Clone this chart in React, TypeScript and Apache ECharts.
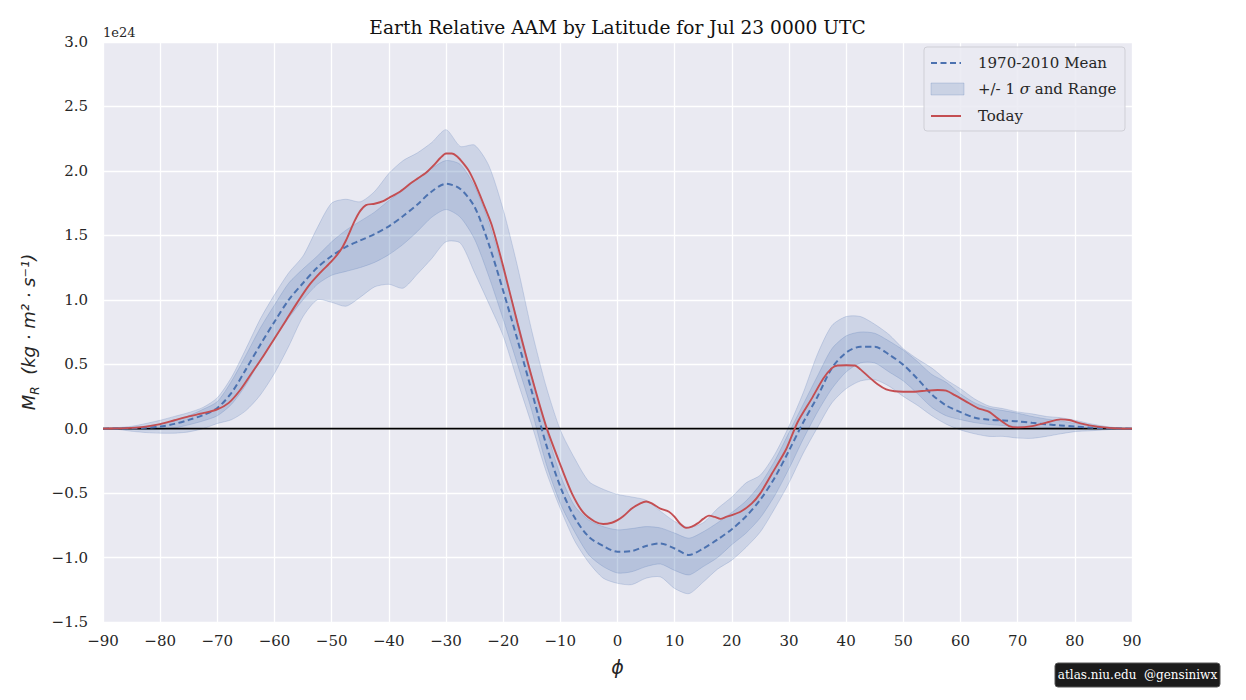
import React, { useEffect, useRef } from "react";
import * as echarts from "echarts";

// Latitude grid (degrees) for climatology series
const LAT = [
  -90, -87.5, -85, -82.5, -80, -77.5, -75, -72.5, -70, -67.5,
  -65, -62.5, -60, -57.5, -55, -52.5, -50, -47.5, -45, -42.5,
  -40, -37.5, -35, -32.5, -30, -27.5, -25, -22.5, -20, -17.5,
  -15, -12.5, -10, -7.5, -5, -2.5, 0, 2.5, 5, 7.5,
  10, 12.5, 15, 17.5, 20, 22.5, 25, 27.5, 30, 32.5,
  35, 37.5, 40, 42.5, 45, 47.5, 50, 52.5, 55, 57.5,
  60, 62.5, 65, 67.5, 70, 72.5, 75, 77.5, 80, 82.5,
  85, 87.5, 90,
];

// 1970-2010 mean (units of 1e24 kg m^2 s^-1)
const MEAN = [
  0, 0.001, 0.003, 0.008, 0.016, 0.037, 0.068, 0.105, 0.16, 0.28,
  0.46, 0.65, 0.83, 1.0, 1.13, 1.25, 1.34, 1.41, 1.46, 1.51,
  1.57, 1.65, 1.74, 1.84, 1.9, 1.86, 1.72, 1.43, 1.07, 0.69,
  0.29, -0.12, -0.45, -0.69, -0.84, -0.91, -0.955, -0.95, -0.91, -0.89,
  -0.93, -0.98, -0.93, -0.86, -0.78, -0.68, -0.55, -0.38, -0.17, 0.05,
  0.25, 0.47, 0.59, 0.635, 0.635, 0.575, 0.495, 0.385, 0.265, 0.18,
  0.128, 0.085, 0.07, 0.064, 0.057, 0.045, 0.034, 0.025, 0.016, 0.009,
  0.004, 0.001, 0,
];

// +1 sigma
const SIG_HI = [
  0, 0.004, 0.01, 0.02, 0.035, 0.06, 0.1, 0.15, 0.21, 0.37,
  0.57, 0.78, 0.96, 1.13, 1.24, 1.34, 1.45, 1.54, 1.61, 1.68,
  1.77, 1.85, 1.94, 2.02, 2.08, 2.05, 1.88, 1.6, 1.23, 0.84,
  0.41, 0.0, -0.36, -0.6, -0.71, -0.76, -0.785, -0.775, -0.76, -0.77,
  -0.81, -0.85, -0.8, -0.73, -0.65, -0.56, -0.43, -0.25, -0.03, 0.19,
  0.41, 0.62, 0.72, 0.75, 0.74, 0.68, 0.61, 0.52, 0.42, 0.36,
  0.27, 0.2, 0.16, 0.14, 0.12, 0.095, 0.075, 0.06, 0.041, 0.025,
  0.012, 0.004, 0,
];

// -1 sigma
const SIG_LO = [
  0, -0.003, -0.006, -0.008, -0.006, 0.005, 0.03, 0.06, 0.1, 0.19,
  0.34, 0.53, 0.7, 0.86, 1.0, 1.12, 1.19, 1.22, 1.25, 1.29,
  1.35, 1.43, 1.53, 1.64, 1.7, 1.64, 1.47, 1.18, 0.85, 0.5,
  0.14, -0.27, -0.58, -0.8, -0.98, -1.07, -1.12, -1.11, -1.07, -1.05,
  -1.1, -1.135, -1.07, -1.0, -0.9, -0.81, -0.69, -0.52, -0.31, -0.08,
  0.13, 0.31, 0.44, 0.51, 0.51, 0.44, 0.37, 0.27, 0.165, 0.1,
  0.07, 0.047, 0.032, 0.024, 0.016, 0.012, 0.009, 0.005, 0.003, 0.001,
  0, 0, 0,
];

// Range maximum
const RNG_HI = [
  0, 0.008, 0.018, 0.04, 0.065, 0.095, 0.125, 0.165, 0.24, 0.4,
  0.62, 0.85, 1.04, 1.21, 1.34, 1.56, 1.75, 1.78, 1.76, 1.84,
  1.98, 2.08, 2.14, 2.22, 2.32, 2.19, 2.2, 2.04, 1.7, 1.26,
  0.76, 0.33, -0.01, -0.23, -0.41, -0.47, -0.51, -0.53, -0.555, -0.64,
  -0.72, -0.765, -0.73, -0.62, -0.53, -0.42, -0.36, -0.2, 0.02, 0.28,
  0.58, 0.8, 0.87, 0.87, 0.81, 0.73, 0.62, 0.54, 0.47, 0.38,
  0.31, 0.23, 0.175, 0.155, 0.13, 0.115, 0.095, 0.085, 0.065, 0.04,
  0.02, 0.006, 0,
];

// Range minimum
const RNG_LO = [
  0, -0.005, -0.02, -0.03, -0.035, -0.035, -0.025, 0.0, 0.04, 0.07,
  0.14, 0.26, 0.43, 0.64, 0.87, 1.0, 0.98, 0.95, 1.02, 1.1,
  1.12, 1.09, 1.2, 1.32, 1.45, 1.44, 1.21, 0.97, 0.72, 0.37,
  0.03, -0.33, -0.62, -0.87, -1.04, -1.16, -1.2, -1.21, -1.16, -1.15,
  -1.24, -1.28, -1.19, -1.09, -1.02, -0.92, -0.8, -0.62, -0.42, -0.19,
  0.01, 0.2, 0.31, 0.37, 0.38, 0.33, 0.25, 0.18, 0.1, 0.035,
  -0.01, -0.04, -0.06, -0.06, -0.073, -0.075, -0.06, -0.04, -0.023, -0.017,
  -0.01, -0.003, 0,
];

// Today's profile
const TODAY_LAT = [
  -90, -87.5, -85, -82.5, -80, -77.5, -75, -72.5, -70,
  -68, -66, -64, -62, -60, -58, -56, -54, -52, -50,
  -48.5, -47.5, -46, -45, -44, -42.5, -41, -40,
  -38, -36, -35, -33.5, -32, -31, -30, -29, -28, -27, -26, -25,
  -23.5, -22, -20, -17.5, -15, -12.5, -10,
  -8, -6, -4, -2.5, -1, 0, 1, 2.5, 4, 5, 6, 7.5, 9, 10,
  11, 12, 13, 14, 15, 16, 17, 18, 19, 20,
  21.5, 23.5, 25, 27, 29.5, 31.5, 34, 36, 37.5, 38.5, 40,
  41.5, 42.5, 44, 45.5, 47, 48.5, 50,
  52, 54, 56, 57.5, 59, 61.5, 63, 65, 66.5, 68.5, 70,
  72.5, 75, 77.5, 79, 81, 84, 87.5, 90,
];
const TODAY = [
  0, 0.002, 0.006, 0.016, 0.035, 0.065, 0.095, 0.12, 0.15,
  0.2, 0.3, 0.43, 0.56, 0.7, 0.84, 0.98, 1.11, 1.21, 1.3,
  1.38, 1.46, 1.61, 1.69, 1.735, 1.745, 1.765, 1.79,
  1.84, 1.91, 1.94, 1.985, 2.05, 2.1, 2.135, 2.135, 2.11, 2.06, 2.0, 1.91,
  1.75, 1.58, 1.26, 0.82, 0.4, 0.02, -0.28,
  -0.5, -0.65, -0.72, -0.74, -0.73, -0.71, -0.68, -0.62, -0.58, -0.565, -0.58, -0.62, -0.645, -0.685,
  -0.74, -0.77, -0.76, -0.735, -0.7, -0.675, -0.685, -0.7, -0.685, -0.67,
  -0.645, -0.58, -0.5, -0.35, -0.16, 0.05, 0.235, 0.39, 0.47, 0.49, 0.492,
  0.49, 0.46, 0.4, 0.345, 0.305, 0.29, 0.287,
  0.287, 0.295, 0.3, 0.295, 0.26, 0.197, 0.16, 0.13, 0.08, 0.02, 0.01,
  0.02, 0.047, 0.072, 0.067, 0.041, 0.016, 0.002, 0,
];

const X_TICKS = { min: -90, max: 90, step: 10 };
const Y_TICKS = { min: -1.5, max: 3.0, step: 0.5 };

const TITLE = "Earth Relative AAM by Latitude for Jul 23 0000 UTC";

function zip(xs: number[], ys: number[]) {
  return xs.map((x, i) => [x, ys[i]]);
}

export default function App() {
  const ref = useRef<HTMLDivElement>(null);

  useEffect(() => {
    const chart = echarts.init(ref.current!, null, { renderer: "svg" });
    const FONT = "DejaVu Serif";
    const TXT = "#262626";
    const BLUE = "#4C72B0";
    const RED = "#C44E52";
    const BAND = "rgba(76,114,176,0.18)";
    const EDGE = "rgba(76,114,176,0.22)";
    const minus = (s: string) => s.replace("-", "\u2212");

    // band between lo and hi arrays, drawn via the axes' coordinate system
    const band = (lo: number[], hi: number[]) => ({
      type: "custom",
      silent: true,
      clip: true,
      z: 1,
      data: [[LAT[0], lo[0]]],
      renderItem: (_params: any, api: any) => {
        const upper = LAT.map((x, i) => api.coord([x, hi[i]]));
        const lower = LAT.map((x, i) => api.coord([x, lo[i]])).reverse();
        return {
          type: "polygon",
          shape: { points: upper.concat(lower), smooth: 0.25 },
          style: { fill: BAND, stroke: EDGE, lineWidth: 1 },
        };
      },
    });

    chart.setOption({
      animation: false,
      grid: {
        left: 103,
        right: 114,
        top: 42,
        bottom: 78,
        show: true,
        backgroundColor: "#EAEAF2",
        borderWidth: 0,
      },
      xAxis: {
        type: "value",
        min: X_TICKS.min,
        max: X_TICKS.max,
        interval: X_TICKS.step,
        axisLine: { show: false },
        axisTick: { show: false },
        splitLine: { lineStyle: { color: "#ffffff", width: 1.3 } },
        axisLabel: {
          fontFamily: FONT,
          fontSize: 15,
          color: TXT,
          margin: 11,
          formatter: (v: number) => minus(String(v)),
        },
        name: "\u03D5",
        nameLocation: "middle",
        nameGap: 35,
        nameTextStyle: {
          fontFamily: "DejaVu Sans",
          fontStyle: "italic",
          fontSize: 19,
          color: TXT,
        },
      },
      yAxis: {
        type: "value",
        min: Y_TICKS.min,
        max: Y_TICKS.max,
        interval: Y_TICKS.step,
        axisLine: { show: false },
        axisTick: { show: false },
        splitLine: { lineStyle: { color: "#ffffff", width: 1.3 } },
        axisLabel: {
          fontFamily: FONT,
          fontSize: 15,
          color: TXT,
          margin: 15,
          formatter: (v: number) => minus(v.toFixed(1)),
        },
        name: "{a|M}{b|R}{a|  (kg \u00B7 m\u00B2 \u00B7 s\u207B\u00B9)}",
        nameLocation: "middle",
        nameGap: 62,
        nameTextStyle: {
          color: TXT,
          rich: {
            a: {
              fontFamily: "DejaVu Sans",
              fontStyle: "italic",
              fontSize: 18,
              color: TXT,
              lineHeight: 24,
            },
            b: {
              fontFamily: "DejaVu Sans",
              fontStyle: "italic",
              fontSize: 12,
              color: TXT,
              verticalAlign: "bottom",
              lineHeight: 16,
            },
          },
        },
      },
      series: [
        band(RNG_LO, RNG_HI),
        band(SIG_LO, SIG_HI),
        {
          type: "line",
          data: [
            [X_TICKS.min, 0],
            [X_TICKS.max, 0],
          ],
          symbol: "none",
          silent: true,
          lineStyle: { color: "#000000", width: 1.8 },
          z: 3,
        },
        {
          type: "line",
          name: "1970-2010 Mean",
          data: zip(LAT, MEAN),
          smooth: 0.3,
          symbol: "none",
          silent: true,
          lineStyle: { color: BLUE, width: 2, type: [6, 3.5] },
          z: 4,
        },
        {
          type: "line",
          name: "Today",
          data: zip(TODAY_LAT, TODAY),
          smooth: 0.25,
          symbol: "none",
          silent: true,
          lineStyle: { color: RED, width: 1.9 },
          z: 5,
        },
      ],
      graphic: [
        {
          type: "text",
          x: 617.5,
          y: 27,
          style: {
            text: TITLE,
            fontFamily: FONT,
            fontSize: 18.6,
            fill: "#111111",
            align: "center",
            verticalAlign: "middle",
          },
        },
        {
          type: "text",
          x: 103,
          y: 32,
          style: {
            text: "1e24",
            fontFamily: FONT,
            fontSize: 13,
            fill: TXT,
            align: "left",
            verticalAlign: "middle",
          },
        },
        // legend
        {
          type: "rect",
          shape: { x: 924, y: 47, width: 201, height: 84, r: 3 },
          style: {
            fill: "rgba(234,234,242,0.85)",
            stroke: "#cfcfd6",
            lineWidth: 1,
          },
          z: 10,
        },
        {
          type: "line",
          shape: { x1: 931, y1: 63, x2: 961, y2: 63 },
          style: { stroke: BLUE, lineWidth: 2, lineDash: [6, 3.5] },
          z: 11,
        },
        {
          type: "text",
          x: 978,
          y: 63,
          style: {
            text: "1970-2010 Mean",
            fontFamily: FONT,
            fontSize: 15,
            fill: TXT,
            align: "left",
            verticalAlign: "middle",
          },
          z: 11,
        },
        {
          type: "rect",
          shape: { x: 931, y: 83, width: 33, height: 12 },
          style: { fill: "rgba(76,114,176,0.2)", stroke: EDGE, lineWidth: 1 },
          z: 11,
        },
        {
          type: "text",
          x: 978,
          y: 89,
          style: {
            text: "+/- 1 {i|\u03C3} and Range",
            fontFamily: FONT,
            fontSize: 15,
            fill: TXT,
            align: "left",
            verticalAlign: "middle",
            rich: {
              i: {
                fontFamily: "DejaVu Serif",
                fontStyle: "italic",
                fontSize: 15,
                fill: TXT,
              },
            },
          },
          z: 11,
        },
        {
          type: "line",
          shape: { x1: 931, y1: 116, x2: 961, y2: 116 },
          style: { stroke: RED, lineWidth: 2 },
          z: 11,
        },
        {
          type: "text",
          x: 978,
          y: 116,
          style: {
            text: "Today",
            fontFamily: FONT,
            fontSize: 15,
            fill: TXT,
            align: "left",
            verticalAlign: "middle",
          },
          z: 11,
        },
        // watermark
        {
          type: "rect",
          shape: { x: 1055, y: 663, width: 165, height: 24, r: 3 },
          style: { fill: "#1b1b1b", stroke: "#555555", lineWidth: 1 },
          z: 10,
        },
        {
          type: "text",
          x: 1137.5,
          y: 675,
          style: {
            text: "atlas.niu.edu  @gensiniwx",
            fontFamily: FONT,
            fontSize: 12,
            fill: "#ffffff",
            align: "center",
            verticalAlign: "middle",
          },
          z: 11,
        },
      ],
    });

    return () => chart.dispose();
  }, []);

  return (
    <div
      ref={ref}
      style={{
        position: "absolute",
        left: 0,
        top: 0,
        width: 1246,
        height: 700,
        background: "#ffffff",
      }}
    />
  );
}
